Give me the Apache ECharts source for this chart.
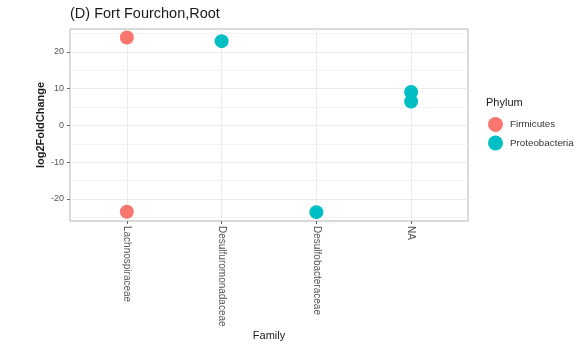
<!DOCTYPE html>
<html>
<head>
<meta charset="utf-8">
<script src="https://cdn.jsdelivr.net/npm/echarts@6/dist/echarts.min.js"></script>
<style>
  html, body { margin: 0; padding: 0; background: #fff; }
  #chart { width: 581px; height: 354px; }
</style>
</head>
<body>
<div id="chart"></div>
<script>
// Families on the x axis (discrete positions 1..4)
const families = ['Lachnospiraceae', 'Desulfuromonadaceae', 'Desulfobacteraceae', 'NA'];

// Firmicutes points
const firmicutesFamily = ['Lachnospiraceae', 'Lachnospiraceae'];
const firmicutesLfc = [23.9, -23.5];

// Proteobacteria points
const proteoFamily = ['Desulfuromonadaceae', 'Desulfobacteraceae', 'NA', 'NA'];
const proteoLfc = [22.9, -23.6, 9.1, 6.5];

// Axis ticks
const yMajorTicks = [-20, -10, 0, 10, 20];
const yMinorTicks = [-25, -15, -5, 5, 15, 25];
const xTicks = [1, 2, 3, 4];

const pos = f => families.indexOf(f) + 1;
const toPoints = (fams, vals) => fams.map((f, i) => [pos(f), vals[i]]);

const chart = echarts.init(document.getElementById('chart'));
const font = 'Liberation Sans, Arial, sans-serif';

chart.setOption({
  animation: false,
  backgroundColor: '#fff',
  textStyle: { fontFamily: font },
  title: [
    {
      text: '(D) Fort Fourchon,Root',
      left: 65, top: 1,
      textStyle: { fontSize: 14.5, fontWeight: 'normal', color: '#1a1a1a', fontFamily: font }
    },
    {
      text: 'Phylum',
      left: 481, top: 92,
      textStyle: { fontSize: 11, fontWeight: 'normal', color: '#1a1a1a', fontFamily: font }
    }
  ],
  legend: {
    orient: 'vertical',
    left: 483, top: 112,
    itemWidth: 15, itemHeight: 15, itemGap: 3.5,
    icon: 'circle',
    textStyle: { fontSize: 9.8, color: '#333', fontFamily: font, padding: [0, 0, 0, 2] },
    data: ['Firmicutes', 'Proteobacteria']
  },
  grid: {
    left: 70, top: 29, width: 398, height: 192,
    show: true, borderColor: '#b3b3b3', borderWidth: 1, backgroundColor: '#fff'
  },
  xAxis: {
    type: 'value',
    min: 0.4, max: 4.6,
    name: 'Family', nameLocation: 'middle', nameGap: 109, nameMoveOverlap: false,
    nameTextStyle: { fontSize: 11, color: '#1a1a1a', fontFamily: font },
    axisLine: { show: false, onZero: false },
    axisTick: { show: true, length: 3, lineStyle: { color: '#666' }, customValues: xTicks },
    axisLabel: {
      customValues: xTicks, rotate: -90, fontSize: 10, color: '#555', margin: 5,
      formatter: v => families[Math.round(v) - 1] || ''
    },
    splitLine: { show: true, lineStyle: { color: '#ebebeb', width: 1 } }
  },
  yAxis: [
    {
      type: 'value',
      min: -26, max: 26.2,
      name: 'log2FoldChange', nameLocation: 'middle', nameGap: 24, nameMoveOverlap: false,
      nameTextStyle: { fontSize: 11, color: '#1a1a1a', fontWeight: 'bold', fontFamily: font },
      axisLine: { show: false, onZero: false },
      axisTick: { show: true, length: 3, lineStyle: { color: '#666' }, customValues: yMajorTicks },
      axisLabel: { customValues: yMajorTicks, fontSize: 9, color: '#555', margin: 6 },
      splitLine: { show: true, lineStyle: { color: '#ebebeb', width: 1 } }
    },
    {
      type: 'value',
      min: -26, max: 26.2,
      position: 'left',
      axisLine: { show: false, onZero: false },
      axisTick: { show: false, customValues: yMinorTicks },
      axisLabel: { show: false, customValues: yMinorTicks },
      splitLine: { show: true, lineStyle: { color: '#f4f4f4', width: 1 } }
    }
  ],
  series: [
    {
      name: 'Firmicutes', type: 'scatter', symbolSize: 14,
      itemStyle: { color: '#F8766D', opacity: 1 },
      data: toPoints(firmicutesFamily, firmicutesLfc)
    },
    {
      name: 'Proteobacteria', type: 'scatter', symbolSize: 14,
      itemStyle: { color: '#00BFC4', opacity: 1 },
      data: toPoints(proteoFamily, proteoLfc)
    }
  ]
});
</script>
</body>
</html>
